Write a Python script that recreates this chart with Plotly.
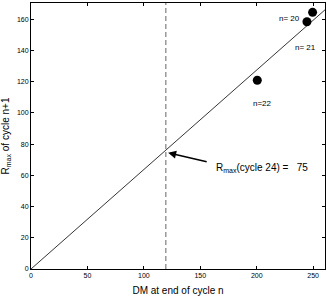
import plotly.graph_objects as go

# Data
fit_x = [0, 265]
fit_y = [0, 169]
cycle_labels = ["n= 20", "n= 21", "n=22"]
dm_values = [249.5, 244.5, 200.5]
rmax_values = [164.5, 158.5, 121]
label_x = [229, 243, 205]
label_y = [160.5, 142, 106]
dm_cycle24 = 119.5
rmax_cycle24 = 75
x_ticks = [0, 50, 100, 150, 200, 250]
y_ticks = [0, 20, 40, 60, 80, 100, 120, 140, 160]

font = "Liberation Sans, Arial, sans-serif"

fig = go.Figure()
fig.add_trace(go.Scatter(x=fit_x, y=fit_y, mode="lines",
                         line=dict(color="black", width=0.8), showlegend=False))
fig.add_trace(go.Scatter(x=[dm_cycle24, dm_cycle24], y=[0, 175], mode="lines",
                         line=dict(color="#222", width=0.7, dash="5px,3px"), showlegend=False))
fig.add_trace(go.Scatter(x=dm_values, y=rmax_values, mode="markers", cliponaxis=False,
                         marker=dict(color="black", size=9), showlegend=False))
for lx, ly, lt in zip(label_x, label_y, cycle_labels):
    fig.add_annotation(x=lx, y=ly, xref="x", yref="y", text=lt, showarrow=False,
                       font=dict(size=8, color="black", family=font))

fig.add_annotation(x=dm_cycle24 + 2, y=rmax_cycle24 - 0.5, ax=157, ay=68.5,
                   xref="x", yref="y", axref="x", ayref="y",
                   showarrow=True, arrowhead=2, arrowsize=1, arrowwidth=1.6,
                   arrowcolor="black", text="")
fig.add_annotation(x=162, y=65, xref="x", yref="y", xanchor="left", yanchor="middle",
                   showarrow=False,
                   text="R<sub>max</sub>(cycle 24) =   75",
                   font=dict(size=10, color="black", family=font))

axis_common = dict(showgrid=False, zeroline=False, showline=True, linecolor="black",
                   linewidth=1, mirror="ticks", ticks="inside", ticklen=3, automargin=False,
                   tickcolor="black", tickfont=dict(size=7, color="black", family=font))

fig.update_xaxes(range=[0, 260.5], tickvals=x_ticks,
                 title=dict(text="DM at end of cycle n", font=dict(size=10, color="black", family=font),
                            standoff=8),
                 **axis_common)
fig.update_yaxes(range=[0, 170.5], tickvals=y_ticks,
                 title=dict(text="R<sub>max</sub> of cycle n+1", font=dict(size=10, color="black", family=font),
                            standoff=6),
                 **axis_common)

fig.update_layout(width=327, height=300, margin=dict(l=31, r=2, t=3, b=31),
                  plot_bgcolor="white", paper_bgcolor="white")

fig.write_html("out.html", config={"displayModeBar": False},
               post_script="document.body.style.margin='0';")
